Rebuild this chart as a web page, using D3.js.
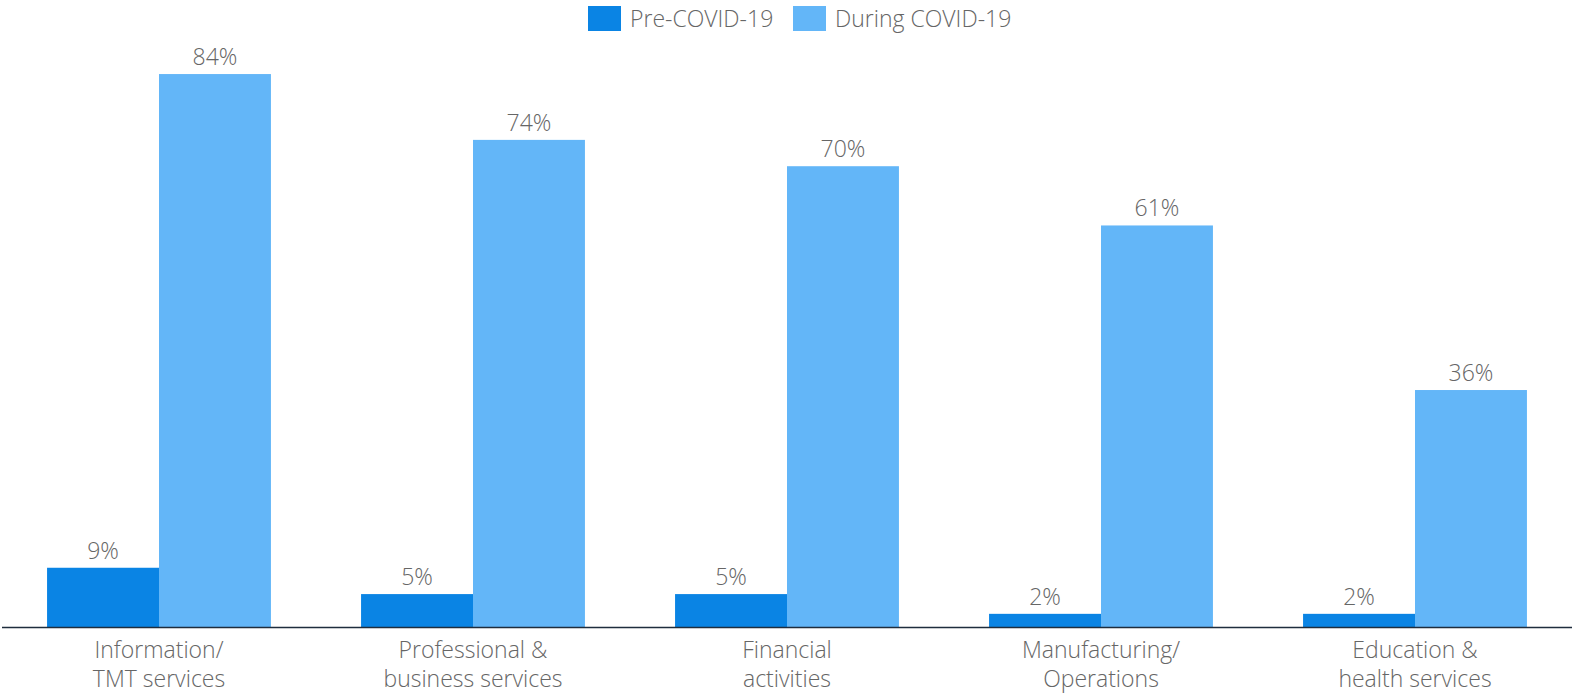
<!DOCTYPE html>
<html><head><meta charset="utf-8">
<script src="https://cdn.jsdelivr.net/npm/d3@7"></script>
<style>
body{margin:0;background:#fff;}
text{font-family:"Open Sans",sans-serif;font-weight:300;fill:#666;}
</style></head>
<body><svg id="c" width="1575" height="693"></svg>
<script>
const categories = [["Information/","TMT services"],["Professional &","business services"],["Financial","activities"],["Manufacturing/","Operations"],["Education &","health services"]];
const seriesNames = ["Pre-COVID-19","During COVID-19"];
const preCovid = [9,5,5,2,2];
const duringCovid = [84,74,70,61,36];
const colors = ["#0a84e4","#63b6f8"];

const svg = d3.select("#c");
const keys = categories.map(c=>c.join(" "));
const x = d3.scaleBand().domain(keys).range([2,1572]).paddingInner(0.287).paddingOuter(0.1435);
const xs = d3.scaleBand().domain(seriesNames).range([0,x.bandwidth()]);
const y = d3.scaleLinear().domain([0,95.25]).range([627,0]);
const series = [preCovid, duringCovid];

const g = svg.append("g");
keys.forEach((k,i)=>{
  series.forEach((s,j)=>{
    const x0 = x(k)+xs(seriesNames[j]);
    g.append("rect").attr("x",x0).attr("y",y(s[i])).attr("width",xs.bandwidth()).attr("height",y(0)-y(s[i])).attr("fill",colors[j]);
    g.append("text").attr("x",x0+xs.bandwidth()/2).attr("y",y(s[i])-9).attr("text-anchor","middle").style("font-size","23px").text(s[i]+"%");
  });
});

const ax = svg.append("g").attr("transform","translate(0,627.5)").call(d3.axisBottom(x).tickSize(0).tickFormat(""));
ax.select(".domain").attr("stroke","#1f2d3d").attr("stroke-width",1.6).attr("d","M2,0H1572");
ax.selectAll(".tick").each(function(d,i){
  const t = d3.select(this).append("text").attr("text-anchor","middle").style("font-size","23px");
  categories[i].forEach((line,li)=>t.append("tspan").attr("x",0).attr("y",30+li*29).text(line));
});

const lg = svg.append("g");
const lx = [588,793];
seriesNames.forEach((n,j)=>{
  lg.append("rect").attr("x",lx[j]).attr("y",6).attr("width",33).attr("height",25).attr("fill",colors[j]);
  lg.append("text").attr("x",lx[j]+42).attr("y",27).style("font-size","23px").text(n);
});
</script></body></html>
